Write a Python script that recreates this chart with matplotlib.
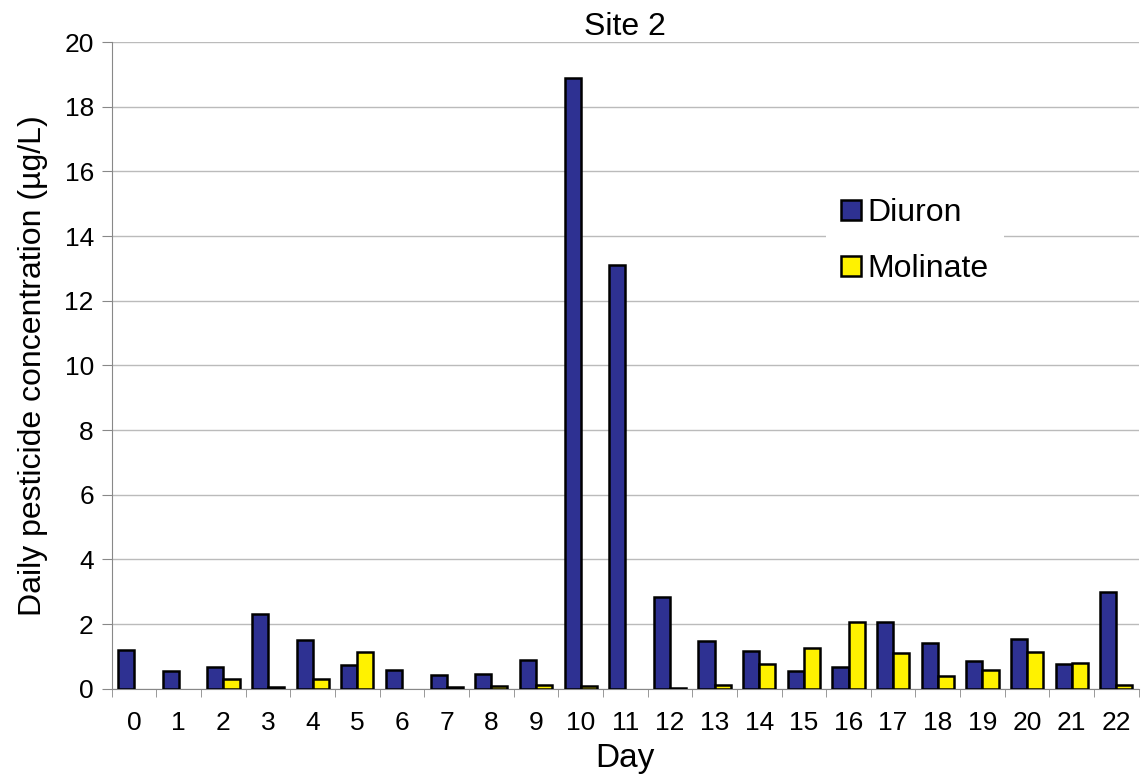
import numpy as np
import matplotlib
matplotlib.use("Agg")
import matplotlib.pyplot as plt

plt.rcParams['font.family'] = ['Liberation Sans', 'DejaVu Sans']

# data
days = [str(d) for d in range(23)]
diuron = [1.2, 0.56, 0.66, 2.30, 1.51, 0.74, 0.58, 0.41, 0.45, 0.88, 18.9, 13.1,
          2.85, 1.47, 1.16, 0.56, 0.66, 2.05, 1.40, 0.86, 1.55, 0.76, 2.99]
molinate = [0.0, 0.0, 0.31, 0.05, 0.30, 1.13, 0.0, 0.05, 0.10, 0.13, 0.10, 0.0,
            0.03, 0.13, 0.77, 1.26, 2.05, 1.12, 0.40, 0.57, 1.15, 0.81, 0.11]
yticks = list(range(0, 21, 2))

fig = plt.figure(figsize=(11.41, 7.8), dpi=100)
ax = fig.add_axes([0.098, 0.117, 0.9, 0.829])

x = np.arange(len(days))
w = 0.36
# zero values are not drawn at all in the original
d = np.where(np.array(diuron) > 0, diuron, np.nan)
m = np.where(np.array(molinate) > 0, molinate, np.nan)
ax.bar(x - w / 2, d, w, color='#2E3192', edgecolor='black', linewidth=1.8,
       label='Diuron', zorder=3)
ax.bar(x + w / 2, m, w, color='#FFF200', edgecolor='black', linewidth=1.8,
       label='Molinate', zorder=3)

ax.set_xlim(-0.5, len(days) - 0.5)
ax.set_ylim(0, 20)
ax.set_yticks(yticks)
ax.set_xticks(x)
ax.set_xticklabels(days)
ax.set_xticks(np.arange(-0.5, len(days), 1), minor=True)
ax.tick_params(axis='x', which='major', length=0, labelsize=19, pad=16)
ax.tick_params(axis='x', which='minor', length=6, color='#888888')
ax.tick_params(axis='y', length=7, color='#888888', labelsize=19, pad=6)

ax.grid(axis='y', color='#bbbbbb', linewidth=1, zorder=0)
for s in ['top', 'right']:
    ax.spines[s].set_visible(False)
ax.spines['left'].set_color('#888888')
ax.spines['bottom'].set_color('#888888')

ax.set_title('Site 2', fontsize=23, pad=4)
ax.set_xlabel('Day', fontsize=24, labelpad=6)
ax.set_ylabel('Daily pesticide concentration (µg/L)', fontsize=23, labelpad=12)

leg = ax.legend(loc='upper left', bbox_to_anchor=(0.695, 0.783), fontsize=23,
                frameon=True, edgecolor='white', framealpha=1,
                handlelength=0.6, handleheight=0.6, handletextpad=0.2,
                labelspacing=0.8, borderpad=0.5, borderaxespad=0,
                fancybox=False)
leg.get_frame().set_linewidth(0)
for h in leg.legend_handles:
    h.set_linewidth(1.8)

fig.savefig('out.png', dpi=100)
